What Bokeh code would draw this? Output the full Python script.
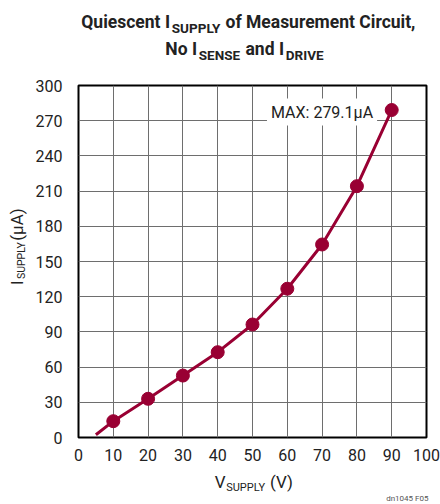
from math import pi
from bokeh.plotting import figure
from bokeh.models import Range1d, FixedTicker, Label
from bokeh.layouts import column, row
from bokeh.embed import file_html
from bokeh.resources import INLINE

# ---- data ----
v_line = [5, 10, 20, 30, 40, 50, 60, 70, 80, 90]
i_line = [2.3, 13.9, 33.0, 52.8, 72.7, 96.3, 126.8, 164.5, 214.2, 279.1]
v_pts = [10, 20, 30, 40, 50, 60, 70, 80, 90]
i_pts = [13.9, 33.0, 52.8, 72.7, 96.3, 126.8, 164.5, 214.2, 279.1]
x_ticks = [0, 10, 20, 30, 40, 50, 60, 70, 80, 90, 100]
y_ticks = [0, 30, 60, 90, 120, 150, 180, 210, 240, 270, 300]
max_text = "MAX: 279.1µA"
max_v, max_i = 85.8, 279.1

FONT = "Roboto"
RED = "#990033"
TXT = "#222222"
W = 440


def blank_fig(w, h):
    f = figure(width=w, height=h, output_backend="svg", toolbar_location=None,
               x_range=Range1d(0, w), y_range=Range1d(0, h),
               x_axis_type=None, y_axis_type=None,
               min_border_left=0, min_border_right=0, min_border_top=0, min_border_bottom=0)
    f.outline_line_color = None
    f.grid.visible = False
    f.background_fill_color = "white"
    f.border_fill_color = "white"
    return f


def put(f, text, x, y, size, bold=False, align="left", angle=0.0):
    f.add_layout(Label(x=x, y=y, text=text, text_align=align, text_baseline="middle",
                       angle=angle, text_font=FONT, text_font_size=f"{size}px",
                       text_color=TXT, text_font_style="bold" if bold else "normal"))


# ---- title strip (page y 0..70); data units == pixels, y up ----
TH = 70
title_fig = blank_fig(W, TH)
M1, S1 = TH - 21.7, TH - 27.3
M2, S2 = TH - 48.3, TH - 54.3
put(title_fig, "Quiescent I", 169.5, M1, 17.5, True, "right")
put(title_fig, "SUPPLY", 171.3, S1, 13.5, True)
put(title_fig, "of Measurement Circuit,", 225, M1, 17.5, True)
put(title_fig, "No I", 196.5, M2, 17.5, True, "right")
put(title_fig, "SENSE", 198.3, S2, 13.5, True)
put(title_fig, "and I", 283.5, M2, 17.5, True, "right")
put(title_fig, "DRIVE", 285.3, S2, 13.5, True)

# ---- main row (page y 70..470) ----
MH = 400
YW = 32
ylab_fig = blank_fig(YW, MH)
put(ylab_fig, "I", 16, (70 + MH) - 291.5, 17, False, "right", pi / 2)
put(ylab_fig, "SUPPLY", 20.5, (70 + MH) - 290, 10.5, False, "left", pi / 2)
put(ylab_fig, "(µA)", 16, (70 + MH) - 246.5, 17, False, "left", pi / 2)

p = figure(width=W - YW, height=MH, output_backend="svg", toolbar_location=None,
           x_range=Range1d(0, 100), y_range=Range1d(0, 300),
           min_border_left=74 - YW, min_border_right=W - 426, min_border_top=85 - 70,
           min_border_bottom=(70 + MH) - 437)
p.background_fill_color = "white"
p.border_fill_color = "white"
p.outline_line_color = "black"
p.outline_line_width = 2

for ax, ticks in ((p.xaxis[0], x_ticks), (p.yaxis[0], y_ticks)):
    ax.ticker = FixedTicker(ticks=ticks)
    ax.axis_line_color = None
    ax.major_tick_line_color = None
    ax.minor_tick_line_color = None
    ax.major_label_text_font = FONT
    ax.major_label_text_font_size = "16px"
    ax.major_label_text_color = TXT
p.xaxis.major_label_standoff = 5
p.yaxis.major_label_standoff = 10

p.grid.grid_line_color = "#6e6e6e"
p.grid.grid_line_width = 1
p.xgrid.ticker = FixedTicker(ticks=x_ticks)
p.ygrid.ticker = FixedTicker(ticks=y_ticks)

p.line(v_line, i_line, line_color=RED, line_width=3)
p.scatter(v_pts, i_pts, size=13, fill_color=RED, line_color=RED)

p.add_layout(Label(x=max_v, y=max_i, y_offset=-2, text=max_text, text_align="right",
                   text_baseline="middle", text_font=FONT, text_font_size="16px",
                   text_color=TXT, background_fill_color="white", padding=4))

# ---- x label strip (page y 470..502) ----
XH = 32
xlab_fig = blank_fig(W, XH)
put(xlab_fig, "V", 225, (470 + XH) - 481, 17, False, "right")
put(xlab_fig, "SUPPLY", 225.7, (470 + XH) - 486.5, 11, False)
put(xlab_fig, "(V)", 269.5, (470 + XH) - 481, 17, False)
xlab_fig.add_layout(Label(x=428, y=(470 + XH) - 498, text="dn1045 F05", text_align="right",
                          text_baseline="middle", text_font=FONT, text_font_size="8px",
                          text_color="#555555"))

layout = column(title_fig, row(ylab_fig, p, spacing=0), xlab_fig, spacing=0)
open("out.html", "w").write(file_html(layout, INLINE))
